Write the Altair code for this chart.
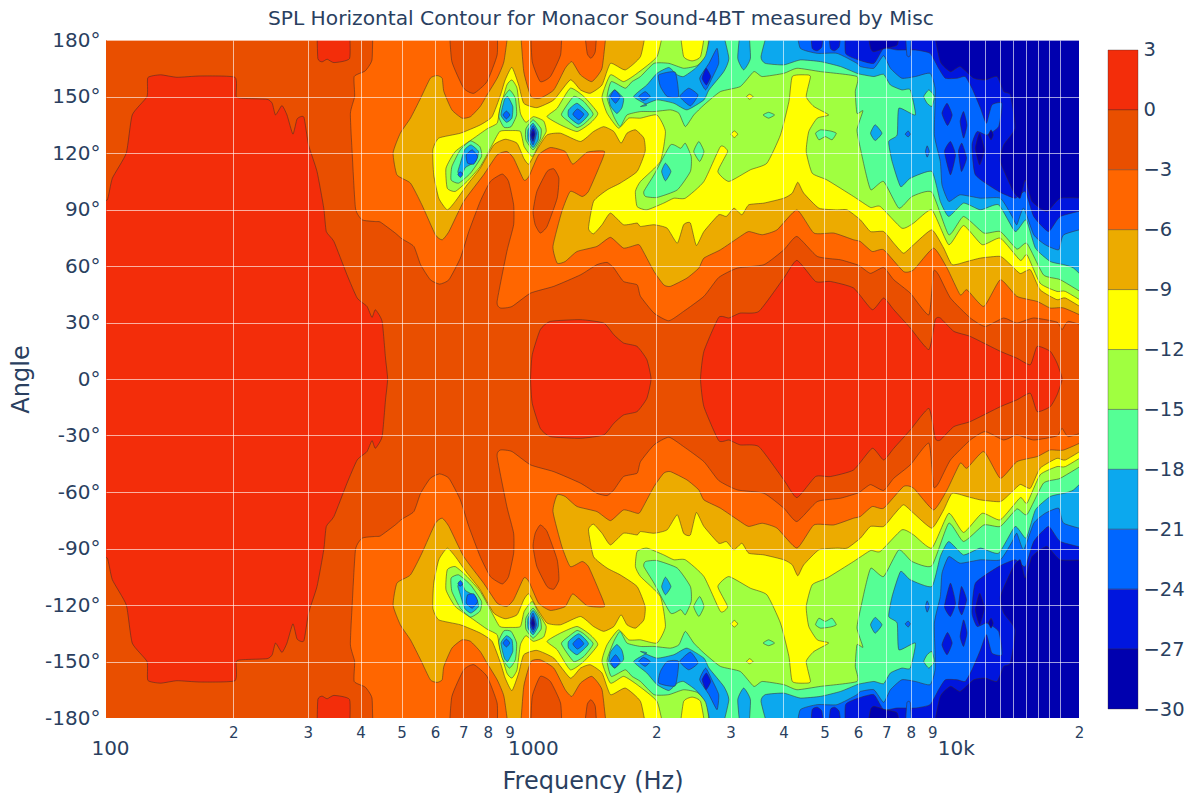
import altair as alt
import pandas as pd

TITLE = "SPL Horizontal Contour for Monacor Sound-4BT measured by Misc"
LEVELS = [3, 0, -3, -6, -9, -12, -15, -18, -21, -24, -27, -30]
COLORS = ["#F32D0A", "#E94F00", "#FF6600", "#ECAB00", "#FFFF00", "#A0FF40",
          "#55FF95", "#0CA8EE", "#0066FF", "#0016DE", "#0000AF"]
GRID_HZ = [200, 300, 400, 500, 600, 700, 800, 1000, 2000, 3000, 4000, 5000, 6000, 7000,
           8000, 9000, 11000, 12000, 13000, 14000, 15000, 16000, 17000, 18000]
MINOR_HZ = [200, 300, 400, 500, 600, 700, 800, 900, 2000, 3000, 4000, 5000, 6000, 7000, 8000, 9000, 20000]
MAJOR_HZ = [100, 1000, 10000]
ANGLES = list(range(-180, 181, 30))

# contour outlines: (log10 of frequency in Hz, angle in degrees)
red_main = [(2.003,95.1),(2.015,106.6),(2.048,120),(2.062,140.2),(2.097,150),(2.099,160),(2.129,161.5),(2.168,160.2),(2.223,160.9),(2.305,160.2),(2.308,150),(2.326,149),(2.381,148.5),(2.393,146.4),(2.401,140.2),(2.416,145.2),(2.428,140.2),(2.442,130),(2.452,138.1),(2.468,139),(2.479,124.3),(2.499,110.2),(2.515,90.7),(2.521,78.3),(2.539,73),(2.570,55.3),(2.594,43),(2.617,38.6),(2.629,32.7),(2.637,36.8),(2.653,30.6),(2.661,11.1),(2.666,0)]
red_mid = [(3.004,0),(3.008,12.9),(3.027,26.2),(3.051,30.6),(3.122,31.5),(3.177,29.7),(3.201,23.5),(3.224,19.1),(3.256,17.3),(3.279,10.3),(3.289,0)]
red_right = [(3.406,0),(3.414,14.7),(3.449,32.7),(3.473,32.4),(3.500,35),(3.544,35.9),(3.603,53.6),(3.634,63),(3.678,51.8),(3.713,51.8),(3.768,48.3),(3.812,36.8),(3.839,43),(3.863,36.8),(3.902,27.1),(3.946,15.6),(3.961,31.5),(3.973,32.4),(4.005,25.3),(4.044,22.6),(4.115,14.7),(4.154,11.1),(4.186,7.6),(4.202,17.3),(4.233,14.7),(4.249,8.5),(4.261,0)]
red_top = [(2.499,180),(2.501,170.2),(2.511,168.4),(2.523,169.8),(2.539,168),(2.576,170.2),(2.576,180)]

level_m3 = [(2.633,180),(2.629,169.4),(2.613,163.6),(2.587,160.6),(2.588,150),(2.578,141.1),(2.582,120.8),(2.590,90.7),(2.606,84.5),(2.637,83.6),(2.649,83.3),(2.684,77.5),(2.700,74.4),(2.728,70.4),(2.744,60.7),(2.767,52.7),(2.789,50.4),(2.811,52.7),(2.838,64.2),(2.858,78.3),(2.885,94.3),(2.909,104.9),(2.937,108.8),(2.952,104.9),(2.964,92.5),(2.964,81.9),(2.948,67.7),(2.925,41.2),(2.933,37.7),(2.960,38.5),(3.004,45.6),(3.059,49.2),(3.122,55.3),(3.161,60.7),(3.185,61.9),(3.201,58.9),(3.224,51.8),(3.256,50),(3.264,43.9),(3.296,35),(3.331,30.9),(3.366,35.9),(3.414,43.9),(3.449,53.9),(3.493,58.9),(3.556,60.7),(3.603,68.6),(3.634,75.7),(3.682,65.1),(3.737,63.3),(3.776,60.7),(3.784,59.8),(3.808,56.1),(3.839,59.2),(3.863,52.7),(3.902,45.6),(3.946,34.1),(3.957,57.1),(3.969,55.3),(3.997,43),(4.044,32.4),(4.079,27.9),(4.123,32.4),(4.154,29.7),(4.194,32.4),(4.249,30.2),(4.261,26.2),(4.276,30.6),(4.301,27.1),(4.301,180)]
warm_a = [(2.812,180),(2.818,168.5),(2.846,154.4),(2.870,151.7),(2.901,157.9),(2.925,172.1),(2.925,180)]
warm_b = [(3.004,180),(3.008,168.5),(3.027,157.9),(3.051,160.6),(3.075,172.1),(3.078,180)]
warm_c = [(3.131,180),(3.138,172.9),(3.147,170.3),(3.157,173.8),(3.161,180)]
warm_d = [(3.010,88.9),(3.015,81.9),(3.027,77.5),(3.043,81),(3.067,96),(3.071,106.6),(3.059,111.6),(3.043,110.2),(3.019,99.6)]

level_m6 = [(2.952,180),(2.941,168.5),(2.925,159.7),(2.901,150.8),(2.885,144.7),(2.862,139.3),(2.842,138.5),(2.818,142.9),(2.799,152.6),(2.795,159.7),(2.783,161.1),(2.767,159.7),(2.744,149.1),(2.720,138.5),(2.696,130.5),(2.679,120.1),(2.688,108.4),(2.720,104),(2.747,92.5),(2.779,76.6),(2.795,73.9),(2.811,78.3),(2.846,94.3),(2.893,108.4),(2.925,119),(2.948,120.8),(2.964,117.2),(2.988,105.7),(3.000,107.5),(3.023,119),(3.051,122.9),(3.086,120.8),(3.104,114.1),(3.138,120.4),(3.179,120.8),(3.165,111.9),(3.141,99.6),(3.126,96.9),(3.098,99.6),(3.078,88.9),(3.057,70.4),(3.067,61.5),(3.086,62.4),(3.114,67.7),(3.161,70.4),(3.193,75.2),(3.224,69.5),(3.256,71.3),(3.264,70.4),(3.296,57.1),(3.319,50),(3.335,49.2),(3.374,53.6),(3.402,58.9),(3.414,64.2),(3.453,68.6),(3.500,75.7),(3.520,78.3),(3.552,76.6),(3.587,79.2),(3.634,89.8),(3.674,77.5),(3.721,77.5),(3.768,73.9),(3.784,73),(3.812,67.7),(3.839,68.6),(3.886,57.1),(3.910,58),(3.957,69.5),(3.989,58.9),(4.020,44.7),(4.036,47.4),(4.076,38.5),(4.115,52.7),(4.154,43.9),(4.202,41.2),(4.233,37.7),(4.265,37.7),(4.301,31.5),(4.301,180),(3.185,180),(3.173,165),(3.149,157.9),(3.122,161.5),(3.102,168.5),(3.086,165),(3.059,153.5),(3.027,149.1),(3.005,150),(2.988,163.2),(2.980,180)]

level_m9 = [(2.960,165.5),(2.944,158.8),(2.933,150.8),(2.913,139.3),(2.885,134.9),(2.838,130.5),(2.787,127.9),(2.773,121.7),(2.775,108.4),(2.787,96),(2.807,89.8),(2.826,94.3),(2.854,103.1),(2.885,111.9),(2.917,124.3),(2.944,127.3),(2.972,125.2),(2.988,117.2),(3.000,114.1),(3.019,121.7),(3.043,129.6),(3.075,130.5),(3.122,126.1),(3.153,131.4),(3.177,134),(3.201,131.4),(3.218,125.2),(3.232,130.5),(3.252,132.3),(3.272,127.9),(3.275,120.8),(3.256,110.2),(3.216,104),(3.185,100.4),(3.153,94.3),(3.141,80.1),(3.153,77.1),(3.173,81.9),(3.193,88.1),(3.224,81.9),(3.256,82.8),(3.264,81),(3.296,81.9),(3.327,80.1),(3.351,72.1),(3.366,81.9),(3.382,82.8),(3.396,70.9),(3.414,78.3),(3.449,87.2),(3.467,86.3),(3.485,90.7),(3.504,87.2),(3.520,92.5),(3.556,93.4),(3.603,96),(3.623,98.7),(3.636,104.5),(3.650,98.7),(3.686,90.7),(3.729,89.8),(3.753,89.8),(3.784,84.5),(3.808,78.3),(3.839,78.3),(3.863,72.1),(3.886,66.8),(3.910,71.3),(3.953,79.2),(3.981,69.5),(4.001,60.7),(4.036,62.4),(4.068,64.2),(4.115,65.1),(4.139,60.7),(4.162,56),(4.186,58),(4.209,47.4),(4.249,42.1),(4.269,43),(4.301,35),(4.301,180),(3.279,180),(3.264,171.2),(3.228,164.1),(3.193,167.6),(3.173,156.1),(3.145,151.7),(3.122,153.5),(3.098,158.8),(3.059,148.2),(3.019,144.1),(2.988,146.4),(2.976,156.1)]

green_left = [(2.960,158.8),(2.972,154.4),(2.980,141.1),(2.993,136.3),(3.011,139.3),(3.035,137),(3.041,131.4),(3.023,124.3),(3.008,118.1),(2.989,123.4),(2.980,131.4),(2.956,131.9),(2.931,131.4),(2.909,122.5),(2.885,112.8),(2.854,104.9),(2.826,99.6),(2.807,101.3),(2.804,111.9),(2.826,120.8),(2.870,127.9),(2.901,132.8),(2.925,135.8),(2.931,142.9),(2.948,156.1)]
green_mid = [(3.043,139.3),(3.067,143.8),(3.098,154.4),(3.130,150),(3.163,141.1),(3.145,135.8),(3.114,131.4),(3.075,134.9)]
green_right = [(3.320,180),(3.303,171.2),(3.256,162.3),(3.224,157.9),(3.193,161.5),(3.173,150),(3.185,141.1),(3.212,133.2),(3.236,138.5),(3.264,138.5),(3.303,140.2),(3.323,131.4),(3.311,115.5),(3.264,104.9),(3.252,99.6),(3.256,91.6),(3.279,89.8),(3.319,93.4),(3.343,96),(3.370,96),(3.414,104.9),(3.453,123.4),(3.470,120.8),(3.447,110.2),(3.473,104.9),(3.524,111.1),(3.563,114.6),(3.595,129.6),(3.615,147.3),(3.623,160.6),(3.654,161.5),(3.666,160.6),(3.656,150),(3.674,144.7),(3.709,140.2),(3.682,138.5),(3.662,131.4),(3.656,120.8),(3.670,109.3),(3.705,105.7),(3.768,96.9),(3.808,91.1),(3.831,91.6),(3.882,80.1),(3.910,82.8),(3.953,89.8),(3.993,71.3),(4.028,81.5),(4.072,71.3),(4.115,74.8),(4.162,63),(4.178,66),(4.209,50.9),(4.249,46.5),(4.269,46.5),(4.301,38.5),(4.301,180)]
yellow_top = [(3.357,180),(3.366,171.2),(3.386,168.9),(3.406,171.2),(3.418,180)]
yellow_dot1 = [(3.515,150),(3.522,151.2),(3.530,150),(3.522,148.5)]
yellow_dot2 = [(3.478,130),(3.486,131.7),(3.494,130),(3.486,128.2)]

spring_a = [(2.862,126.4),(2.884,123.4),(2.888,118.1),(2.862,109.3),(2.834,104),(2.816,105.7),(2.818,112.8),(2.838,121.7)]
spring_b = [(2.954,153.5),(2.968,149.1),(2.971,140.2),(2.958,134),(2.941,133.7),(2.929,139.3),(2.937,148.2)]
spring_c = [(3.010,137.6),(3.029,132.8),(3.027,127.5),(3.010,121.7),(2.993,127),(2.993,132.8)]
spring_d = [(3.077,140.6),(3.106,150),(3.130,147.3),(3.152,140.6),(3.130,135.3),(3.114,133.5),(3.094,136.7)]
spring_main = [(3.185,149.4),(3.195,157.9),(3.228,154.4),(3.244,157.9),(3.264,160.6),(3.296,167.6),(3.331,167.6),(3.366,165),(3.398,166.4),(3.422,172),(3.427,180),(4.301,180),(4.301,43),(4.257,52.7),(4.217,55.3),(4.178,72),(4.154,69),(4.115,78.3),(4.076,77.5),(4.028,86.3),(3.993,76.6),(3.953,99.2),(3.906,96.9),(3.875,90.7),(3.839,104.9),(3.809,100.4),(3.796,110.2),(3.784,122.5),(3.776,132.3),(3.790,142.4),(3.776,141.1),(3.772,152.6),(3.776,160.6),(3.690,163.2),(3.634,165),(3.603,162.3),(3.552,160.6),(3.532,163.2),(3.500,155.3),(3.453,152.6),(3.414,145.5),(3.390,140.2),(3.370,134),(3.355,141.1),(3.335,142.9),(3.296,142),(3.264,142),(3.232,140.2),(3.216,134),(3.201,139.3)]
spring_low = [(3.272,99.6),(3.296,108.4),(3.335,124.3),(3.359,122.5),(3.370,125.2),(3.384,118.1),(3.382,110.2),(3.351,100.4),(3.303,96.4),(3.276,96.9)]
spring_small = [(3.402,126.1),(3.414,120.8),(3.404,115.5),(3.390,120.8)]
spring_peanut = [(3.678,130.5),(3.690,132.3),(3.713,131.7),(3.727,130.5),(3.717,127),(3.701,128.7),(3.686,127)]
spring_tiny = [(3.554,140.2),(3.567,141.6),(3.581,140.2),(3.567,138.5)]

sky_a = [(2.863,124.3),(2.881,120.8),(2.874,115.5),(2.850,112.3),(2.842,108.8),(2.832,109.8),(2.838,114.6),(2.848,121.7)]
sky_b = [(2.950,150),(2.962,144.7),(2.960,138.5),(2.947,136.3),(2.934,140.2),(2.942,148.2)]
sky_c = [(3.010,135.8),(3.022,131.4),(3.022,127),(3.010,122.9),(2.998,127),(2.998,132.3)]
sky_d = [(3.114,146.4),(3.141,140.6),(3.118,135.3),(3.094,139.3),(3.094,142.9)]
sky_e = [(3.203,153.5),(3.224,149),(3.220,144),(3.208,141),(3.193,145),(3.189,150)]
sky_mid = [(3.248,150),(3.279,156.1),(3.303,162.3),(3.331,165.4),(3.351,161.5),(3.366,160.6),(3.394,165),(3.418,171.7),(3.432,180),(3.457,180),(3.473,170.3),(3.461,163.2),(3.426,153.5),(3.414,148.2),(3.374,142.9),(3.343,146.4),(3.303,148.2),(3.264,144.7),(3.279,145.5)]
sky_top = [(3.500,180),(3.520,180),(3.524,170.3),(3.508,164.1),(3.494,170.3)]
sky_right = [(3.567,180),(3.549,171.2),(3.559,167.6),(3.603,166.8),(3.642,169.4),(3.690,168.5),(3.737,165.9),(3.776,162.3),(3.784,161.8),(3.816,160.6),(3.839,161.8),(3.855,156.1),(3.882,153.5),(3.902,153.5),(3.914,140.2),(3.875,143.8),(3.871,129.6),(3.851,126.1),(3.859,115.5),(3.879,102.2),(3.902,106.6),(3.953,110.2),(3.973,94.3),(3.993,86.3),(4.028,93.4),(4.068,89.8),(4.111,92.5),(4.150,78.3),(4.176,84.5),(4.198,69.5),(4.233,62.4),(4.265,60.7),(4.288,58.9),(4.301,50),(4.301,180)]
spring_isle = [(3.934,150),(3.946,153.5),(3.959,150),(3.953,144.7),(3.942,146.4)]
sky_dot = [(3.808,130.5),(3.819,135),(3.835,130.5),(3.819,126.6)]
sky_low = [(3.323,114.6),(3.336,110.2),(3.323,105.2),(3.314,110.2)]

blue_a = [(2.866,121.7),(2.879,118.1),(2.870,114.1),(2.855,114.6),(2.852,119)]
blue_a2 = [(2.838,110),(2.844,108.7),(2.838,107),(2.832,108.7)]
blue_b = [(2.947,142.3),(2.955,140.2),(2.947,138.1),(2.939,140.2)]
blue_c = [(3.010,134.6),(3.018,130.5),(3.010,124.3),(3.001,129.6)]
blue_d = [(3.115,143.4),(3.130,140.6),(3.118,137.6),(3.104,140.6)]
blue_e = [(3.203,153.5),(3.216,150),(3.205,146.4),(3.193,150)]
blue_f = [(3.260,150),(3.275,152.6),(3.287,150),(3.271,147.8)]
blue_g = [(3.307,161.5),(3.346,162.9),(3.354,150),(3.327,150),(3.311,155.3)]
blue_h = [(3.357,150),(3.378,154.4),(3.400,150.8),(3.382,145)]
blue_i = [(3.404,159.7),(3.426,167.6),(3.445,175.6),(3.449,167.6),(3.433,159.7),(3.418,153.5)]
blue_right = [(3.634,180),(3.642,175.6),(3.682,172.9),(3.729,172.9),(3.776,167.6),(3.784,165.9),(3.816,165),(3.839,171.7),(3.855,165),(3.882,159.7),(3.914,160.6),(3.949,162.3),(3.961,153.5),(3.959,129.6),(3.973,115.5),(3.977,103.1),(3.993,94.3),(4.020,97.8),(4.068,96),(4.115,96),(4.143,86.3),(4.154,81.9),(4.170,90.7),(4.194,76.6),(4.221,71.3),(4.253,68.6),(4.265,76.6),(4.301,81),(4.301,180)]
blue_dot1 = [(3.890,130),(3.897,131.7),(3.902,130),(3.897,128.6)]
blue_dot2 = [(3.938,120.8),(3.942,123.8),(3.947,120.8),(3.942,117.8)]

deep_right = [(3.749,180),(3.749,172.9),(3.780,169.4),(3.816,167.6),(3.839,175.6),(3.871,174.7),(3.914,174.7),(3.949,172.9),(3.969,165),(3.985,159.7),(4.013,159.7),(4.032,160.6),(4.048,154.4),(4.068,143.8),(4.082,135.8),(4.095,145.5),(4.119,146.4),(4.111,134),(4.083,129.6),(4.060,131.4),(4.048,124.3),(4.056,108.4),(4.111,99.6),(4.150,96),(4.174,99.6),(4.194,86.3),(4.229,78.3),(4.257,86.3),(4.301,90.7),(4.301,180)]
notch = [(3.890,180),(3.906,180),(3.902,172),(3.894,172)]
deep_a = [(3.666,180),(3.670,175.6),(3.682,174.3),(3.693,176.5),(3.697,180)]
deep_b = [(3.708,180),(3.713,175.6),(3.723,174.3),(3.734,176.5),(3.739,180)]
deep_c = [(3.010,133.2),(3.015,130.5),(3.010,126.1),(3.004,129.6)]
deep_d = [(3.410,159.7),(3.419,165),(3.430,160.6),(3.420,156.1)]
deep_e = [(3.977,141.1),(3.989,146.4),(4.001,140.2),(3.990,134.6)]
deep_f = [(4.020,136.7),(4.028,142),(4.036,134.9),(4.028,127.9)]
deep_g = [(3.983,120.8),(3.997,126.1),(4.009,119),(3.997,108.4)]
deep_h = [(4.016,120.8),(4.024,125.2),(4.035,117.2),(4.023,110.2)]

navy_left = [(3.800,180),(3.808,175.6),(3.816,173.8),(3.843,175.6),(3.871,177.3),(3.877,180)]
navy_right = [(3.957,180),(3.973,168.5),(3.997,163.2),(4.020,165.9),(4.052,159.7),(4.079,158.8),(4.107,160.6),(4.123,152.6),(4.139,150.8),(4.150,133.2),(4.123,124.3),(4.115,115.5),(4.146,99.6),(4.162,96),(4.174,105.7),(4.190,94.3),(4.225,88.9),(4.257,96),(4.301,96),(4.301,180)]
navy_a = [(4.056,122.5),(4.066,130.5),(4.077,121.7),(4.066,113.7)]
navy_b = [(4.087,129.6),(4.093,132.3),(4.098,129.6),(4.093,127)]
navy_c = [(3.010,131.5),(3.013,130),(3.010,127.5),(3.007,129.8)]

SPANNING = [(0, red_main), (0, red_mid), (0, red_right)]
PLANAR = [(0, red_top), (-6, level_m3), (-3, warm_a), (-3, warm_b), (-3, warm_c), (-3, warm_d),
          (-9, level_m6), (-12, level_m9), (-15, green_left), (-15, green_mid), (-15, green_right),
          (-18, spring_main), (-21, sky_mid), (-21, sky_right), (-24, blue_right),
          (-27, deep_right), (-24, notch), (-30, navy_left), (-30, navy_right)]
BLOBS = [(-12, yellow_top), (-12, yellow_dot1), (-12, yellow_dot2),
         (-18, spring_a), (-18, spring_b), (-18, spring_c), (-18, spring_d), (-18, spring_low),
         (-18, spring_small), (-18, spring_peanut), (-18, spring_tiny), (-18, spring_isle),
         (-21, sky_a), (-21, sky_b), (-21, sky_c), (-21, sky_d), (-21, sky_e), (-21, sky_top),
         (-21, sky_dot), (-21, sky_low),
         (-24, blue_a), (-24, blue_a2), (-24, blue_b), (-24, blue_c), (-24, blue_d), (-24, blue_e),
         (-24, blue_f), (-24, blue_g), (-24, blue_h), (-24, blue_i), (-24, blue_dot1), (-24, blue_dot2),
         (-27, deep_a), (-27, deep_b), (-27, deep_c), (-27, deep_d), (-27, deep_e), (-27, deep_f),
         (-27, deep_g), (-27, deep_h),
         (-30, navy_a), (-30, navy_b), (-30, navy_c)]


def outer(pts):
    # outlines that meet the frame run just past it, so the frame carries no contour line
    return [(4.33 if lf >= 4.3009 else lf, 186 if a >= 180 else a) for lf, a in pts]


def guarded(pts):
    # keeps the smoothed path from swinging along the long runs that lie outside the frame
    res = []
    n = len(pts)
    for i, (lf, a) in enumerate(pts):
        res.append((lf, a))
        lf2, a2 = pts[(i + 1) % n]
        out1 = abs(a) >= 186 or lf >= 4.33 or lf <= 1.98
        out2 = abs(a2) >= 186 or lf2 >= 4.33 or lf2 <= 1.98
        if out1 and out2:
            for t in (0.02, 0.98):
                res.append((lf + (lf2 - lf) * t, a + (a2 - a) * t))
    return res


def rows(pts, low, pid):
    return [{"pid": pid, "idx": i, "freq": 10 ** lf, "angle": a, "band": str(low)}
            for i, (lf, a) in enumerate(guarded(pts))]


polys, blobs = [], []
polys += rows([(1.98, 186), (4.33, 186), (4.33, -186), (1.98, -186)], -3, "frame")
for n, (low, pts) in enumerate(SPANNING):
    p = list(pts)
    if n == 0:
        p = [(1.98, 95.1)] + p
    mirrored = [(lf, -a) for lf, a in reversed(p) if a != 0]
    polys += rows(p + mirrored, low, f"span{n}")
for n, (low, pts) in enumerate(PLANAR):
    p = outer(pts)
    polys += rows(p, low, f"up{n}")
    polys += rows([(lf, -a) for lf, a in p], low, f"down{n}")
for n, (low, pts) in enumerate(BLOBS):
    p = outer(pts)
    blobs += rows(p, low, f"bu{n}")
    blobs += rows([(lf, -a) for lf, a in p], low, f"bd{n}")

INK = "#2a3f5f"
FONT = "DejaVu Sans"
band_dom = [str(v) for v in LEVELS[1:]]
xs = alt.Scale(type="log", domain=[100, 20000], nice=False)
ys = alt.Scale(domain=[-180, 180], nice=False, zero=False)
fill_s = alt.Scale(domain=band_dom, range=COLORS)

grid_axis = alt.Axis(values=GRID_HZ, labels=False, ticks=False, domain=False, title=None, grid=True,
                     gridColor="white", gridOpacity=0.62, gridWidth=1, zindex=1, orient="bottom")
y_axis = alt.Axis(values=ANGLES, labelExpr="datum.value + '°'", labelFontSize=20, labelColor=INK,
                  labelFont=FONT, ticks=False, domain=False, grid=True, gridColor="white", gridOpacity=0.62,
                  gridWidth=1, zindex=1, title="Angle", titleFontSize=24, titleFont=FONT, titleColor=INK,
                  titleFontWeight="normal", titlePadding=11, labelPadding=6, labelFlush=False)


def contour(data, axis):
    return alt.Chart(pd.DataFrame(data)).mark_line(
        clip=True, interpolate="cardinal-closed", tension=0.5, stroke="#3b2a2a", strokeWidth=0.7, strokeOpacity=0.75
    ).encode(
        x=alt.X("freq:Q", scale=xs, axis=axis),
        y=alt.Y("angle:Q", scale=ys, axis=y_axis),
        fill=alt.Fill("band:N", scale=fill_s, legend=None),
        detail="pid:N",
        order="idx:Q",
    )


minor_df = pd.DataFrame({"freq": MINOR_HZ})
major_df = pd.DataFrame({"freq": MAJOR_HZ})
minor = alt.Chart(minor_df).mark_point(opacity=0).encode(
    x=alt.X("freq:Q", scale=xs, axis=alt.Axis(
        values=MINOR_HZ, orient="bottom", grid=False, ticks=False, domain=False, title=None,
        labelExpr="substring(format(datum.value, 'd'), 0, 1)", labelFontSize=15, labelFont=FONT,
        labelColor=INK, labelPadding=7, labelFlush=False, labelOverlap=False)))
major = alt.Chart(major_df).mark_point(opacity=0).encode(
    x=alt.X("freq:Q", scale=xs, axis=alt.Axis(
        values=MAJOR_HZ, orient="bottom", grid=False, ticks=False, domain=False,
        labelExpr="datum.value == 10000 ? '10k' : format(datum.value, 'd')", labelFontSize=20, labelFont=FONT,
        labelColor=INK, labelPadding=20, labelOffset=4, labelFlush=False, labelOverlap=False,
        title="Frequency (Hz)", titleFontSize=24, titleFont=FONT, titleColor=INK,
        titleFontWeight="normal", titlePadding=11)))

main = alt.layer(contour(polys, grid_axis),
                 contour(blobs, alt.Axis(values=GRID_HZ, labels=False, ticks=False, domain=False, title=None, grid=False, orient="bottom")),
                 minor, major).resolve_axis(x="independent").properties(width=973, height=678)

cb_df = pd.DataFrame({"lo": LEVELS[1:], "hi": LEVELS[:-1], "band": band_dom})
colorbar = alt.Chart(cb_df).mark_rect(stroke="#3b2a2a", strokeWidth=0.5, strokeOpacity=0.7).encode(
    y=alt.Y("lo:Q", scale=alt.Scale(domain=[-30.45, 3.5], nice=False, zero=False), axis=alt.Axis(
        values=LEVELS, orient="right", title=None, ticks=False, domain=False, grid=False,
        labelFontSize=19.5, labelFont=FONT, labelColor=INK, labelPadding=5,
        labelExpr="replace(format(datum.value, 'd'), '-', '−')")),
    y2="hi:Q",
    fill=alt.Fill("band:N", scale=fill_s, legend=None),
).properties(width=30, height=678)

chart = alt.hconcat(main, colorbar, spacing=23).properties(
    title=alt.TitleParams(TITLE, fontSize=20.2, font=FONT, color=INK, fontWeight="normal", anchor="middle", offset=1, dx=4),
    padding={"left": 1, "top": 0, "right": 0, "bottom": 0},
).configure_view(stroke=None)

chart.save("out.html", embed_options={"renderer": "svg", "actions": False})
